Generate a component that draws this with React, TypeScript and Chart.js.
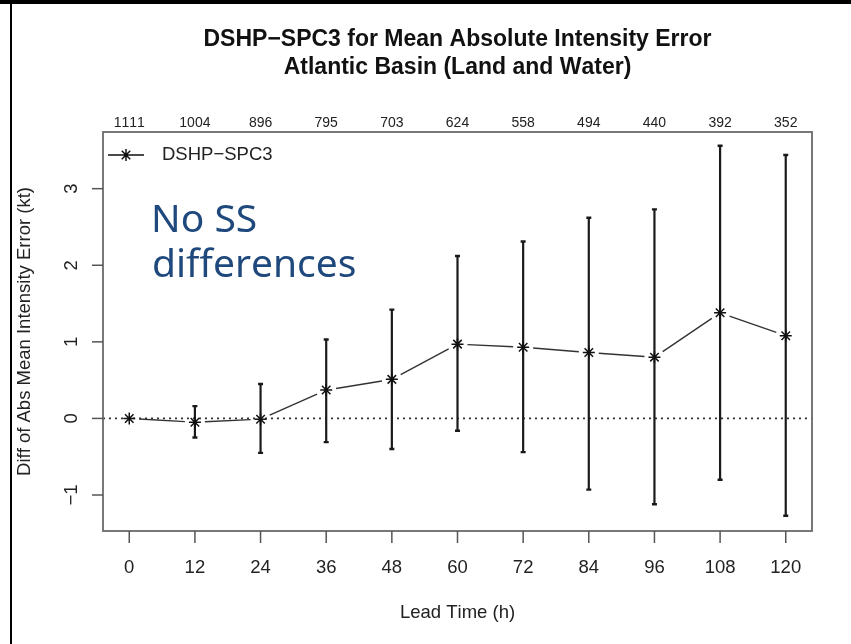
import React, { useEffect, useRef } from 'react';
import { Chart, registerables } from 'chart.js';
Chart.register(...registerables);

const leadTimes = [0, 12, 24, 36, 48, 60, 72, 84, 96, 108, 120];
const caseCounts = ['1111', '1004', '896', '795', '703', '624', '558', '494', '440', '392', '352'];
const meanDiff = [0, -0.05, -0.01, 0.37, 0.51, 0.97, 0.93, 0.86, 0.8, 1.38, 1.08];
const upperCI: (number | null)[] = [null, 0.16, 0.45, 1.03, 1.42, 2.12, 2.31, 2.62, 2.73, 3.56, 3.44];
const lowerCI: (number | null)[] = [null, -0.25, -0.45, -0.31, -0.4, -0.16, -0.44, -0.93, -1.12, -0.8, -1.27];
const yTicks = [-1, 0, 1, 2, 3];
const titleLines = ['DSHP\u2212SPC3 for Mean Absolute Intensity Error', 'Atlantic Basin (Land and Water)'];
const seriesName = 'DSHP\u2212SPC3';
const xTitle = 'Lead Time (h)';
const yTitle = 'Diff of Abs Mean Intensity Error (kt)';
const noteLines = ['No SS', 'differences'];

const FONT = '"Liberation Sans", Arial, sans-serif';

const drawPlugin = {
  id: 'rStyle',
  beforeDraw(chart: any) {
    const ctx = chart.ctx;
    ctx.save();
    ctx.fillStyle = '#ffffff';
    ctx.fillRect(0, 0, chart.width, chart.height);
    ctx.fillStyle = '#000000';
    ctx.fillRect(0, 0, chart.width, 4);
    ctx.fillRect(10, 0, 2, chart.height);
    ctx.restore();
  },
  beforeDatasetsDraw(chart: any) {
    const { ctx, chartArea: a, scales } = chart;
    const x = scales.x;
    const y = scales.y;
    ctx.save();
    const y0 = y.getPixelForValue(0);
    ctx.strokeStyle = '#333';
    ctx.lineWidth = 1.6;
    ctx.setLineDash([2, 4]);
    ctx.beginPath();
    ctx.moveTo(a.left, y0);
    ctx.lineTo(a.right, y0);
    ctx.stroke();
    ctx.setLineDash([]);
    const gap = 10;
    ctx.strokeStyle = '#333';
    ctx.lineWidth = 1.4;
    for (let i = 0; i < leadTimes.length - 1; i++) {
      const x1 = x.getPixelForValue(leadTimes[i]);
      const y1 = y.getPixelForValue(meanDiff[i]);
      const x2 = x.getPixelForValue(leadTimes[i + 1]);
      const y2 = y.getPixelForValue(meanDiff[i + 1]);
      const d = Math.hypot(x2 - x1, y2 - y1);
      if (d <= 2 * gap) continue;
      const ux = (x2 - x1) / d;
      const uy = (y2 - y1) / d;
      ctx.beginPath();
      ctx.moveTo(x1 + ux * gap, y1 + uy * gap);
      ctx.lineTo(x2 - ux * gap, y2 - uy * gap);
      ctx.stroke();
    }
    ctx.strokeStyle = '#1a1a1a';
    for (let i = 0; i < leadTimes.length; i++) {
      const up = upperCI[i];
      const lo = lowerCI[i];
      if (up === null || lo === null) continue;
      const px = x.getPixelForValue(leadTimes[i]);
      const pu = y.getPixelForValue(up);
      const pl = y.getPixelForValue(lo);
      ctx.lineWidth = 2.2;
      ctx.beginPath();
      ctx.moveTo(px, pu);
      ctx.lineTo(px, pl);
      ctx.stroke();
      ctx.lineWidth = 2.4;
      ctx.beginPath();
      ctx.moveTo(px - 2.5, pu);
      ctx.lineTo(px + 2.5, pu);
      ctx.moveTo(px - 2.5, pl);
      ctx.lineTo(px + 2.5, pl);
      ctx.stroke();
    }
    ctx.restore();
  },
  afterDraw(chart: any) {
    const { ctx, chartArea: a, scales } = chart;
    const x = scales.x;
    const y = scales.y;
    ctx.save();
    try { (ctx as any).fontKerning = 'none'; } catch (e) { /* ignore */ }
    ctx.strokeStyle = '#6a6a6a';
    ctx.lineWidth = 1.8;
    ctx.strokeRect(a.left, a.top, a.right - a.left, a.bottom - a.top);

    ctx.strokeStyle = '#555';
    ctx.lineWidth = 1.5;
    ctx.fillStyle = '#222';
    ctx.font = `18.5px ${FONT}`;
    ctx.textAlign = 'center';
    ctx.textBaseline = 'alphabetic';
    leadTimes.forEach((v) => {
      const px = x.getPixelForValue(v);
      ctx.beginPath();
      ctx.moveTo(px, a.bottom);
      ctx.lineTo(px, a.bottom + 12);
      ctx.stroke();
      ctx.fillText(String(v), px, 573);
    });

    ctx.font = `14px ${FONT}`;
    leadTimes.forEach((v, i) => {
      const px = x.getPixelForValue(v);
      ctx.fillText(caseCounts[i], px, 126.5);
    });

    ctx.font = `18.5px ${FONT}`;
    yTicks.forEach((v) => {
      const py = y.getPixelForValue(v);
      ctx.beginPath();
      ctx.moveTo(a.left - 11, py);
      ctx.lineTo(a.left, py);
      ctx.stroke();
      ctx.save();
      ctx.translate(76.5, py);
      ctx.rotate(-Math.PI / 2);
      ctx.textAlign = 'center';
      ctx.fillText(v < 0 ? '\u2212' + Math.abs(v) : String(v), 0, 0);
      ctx.restore();
    });

    ctx.fillText(xTitle, (a.left + a.right) / 2, 618);
    ctx.save();
    ctx.translate(30, (a.top + a.bottom) / 2);
    ctx.rotate(-Math.PI / 2);
    ctx.textAlign = 'center';
    ctx.fillText(yTitle, 0, 0);
    ctx.restore();

    ctx.fillStyle = '#111';
    ctx.font = `bold 23px ${FONT}`;
    ctx.fillText(titleLines[0], (a.left + a.right) / 2, 46);
    ctx.fillText(titleLines[1], (a.left + a.right) / 2, 74);

    const ly = 155;
    ctx.strokeStyle = '#111';
    ctx.lineWidth = 1.5;
    ctx.beginPath();
    ctx.moveTo(108, ly);
    ctx.lineTo(144, ly);
    const r = 6;
    const cx = 126;
    ctx.moveTo(cx - r, ly);
    ctx.lineTo(cx + r, ly);
    ctx.moveTo(cx, ly - r);
    ctx.lineTo(cx, ly + r);
    const d = r * Math.SQRT1_2;
    ctx.moveTo(cx - d, ly - d);
    ctx.lineTo(cx + d, ly + d);
    ctx.moveTo(cx - d, ly + d);
    ctx.lineTo(cx + d, ly - d);
    ctx.stroke();
    ctx.fillStyle = '#222';
    ctx.font = `18.5px ${FONT}`;
    ctx.textAlign = 'left';
    ctx.textBaseline = 'middle';
    ctx.fillText(seriesName, 162, ly);

    ctx.fillStyle = '#1F497D';
    ctx.font = `39px "Noto Sans", "Open Sans", sans-serif`;
    ctx.textBaseline = 'alphabetic';
    ctx.fillText(noteLines[0], 151, 231.5);
    ctx.fillText(noteLines[1], 152, 276.5);
    ctx.restore();
  },
};

export default function App() {
  const ref = useRef<HTMLCanvasElement | null>(null);
  useEffect(() => {
    if (!ref.current) return;
    const chart = new Chart(ref.current, {
      type: 'scatter',
      data: {
        datasets: [
          {
            label: seriesName,
            data: leadTimes.map((t, i) => ({ x: t, y: meanDiff[i] })),
            pointStyle: 'star',
            pointRadius: 6,
            pointHoverRadius: 6,
            borderColor: '#111',
            backgroundColor: '#111',
            borderWidth: 1.5,
            showLine: false,
          },
        ],
      },
      options: {
        responsive: false,
        animation: false,
        devicePixelRatio: 1,
        layout: { padding: { left: 103, top: 132, right: 39, bottom: 113 } },
        plugins: { legend: { display: false }, tooltip: { enabled: false }, title: { display: false } },
        scales: {
          x: { type: 'linear', display: false, min: -4.8, max: 124.8 },
          y: { type: 'linear', display: false, min: -1.47, max: 3.74 },
        },
      },
      plugins: [drawPlugin],
    });
    return () => chart.destroy();
  }, []);
  return (
    <div style={{ position: 'fixed', left: 0, top: 0, width: 851, height: 644, background: '#fff' }}>
      <canvas ref={ref} width={851} height={644} style={{ width: 851, height: 644, display: 'block' }} />
    </div>
  );
}
